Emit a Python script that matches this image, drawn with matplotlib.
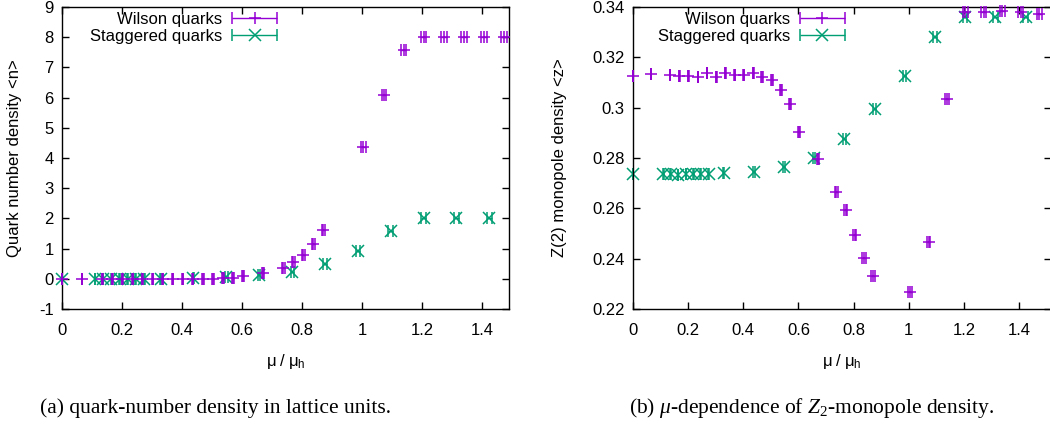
import matplotlib
matplotlib.use("Agg")
import matplotlib.pyplot as plt
from matplotlib.container import ErrorbarContainer
from matplotlib.legend_handler import HandlerErrorbar
from matplotlib.ticker import FormatStrFormatter, MultipleLocator

plt.rcParams['font.family'] = ['Liberation Sans', 'DejaVu Sans']
plt.rcParams['mathtext.fontset'] = 'custom'
plt.rcParams['mathtext.rm'] = 'Liberation Serif'
plt.rcParams['mathtext.it'] = 'Liberation Serif:italic'
plt.rcParams['mathtext.sf'] = 'Liberation Sans'

# mu / mu_h values
wilson_mu = [0.0, 0.067, 0.134, 0.168, 0.201, 0.235, 0.268, 0.302, 0.335, 0.369,
             0.402, 0.436, 0.469, 0.503, 0.536, 0.570, 0.603, 0.670, 0.737, 0.771,
             0.804, 0.838, 0.871, 1.005, 1.072, 1.139, 1.206, 1.273, 1.340, 1.407, 1.474]
wilson_mu_err = [0.0, 0.0, 0.001, 0.001, 0.001, 0.001, 0.001, 0.002, 0.002, 0.002,
                 0.002, 0.002, 0.003, 0.003, 0.003, 0.003, 0.004, 0.004, 0.005, 0.005,
                 0.005, 0.006, 0.006, 0.007, 0.007, 0.008, 0.008, 0.009, 0.009, 0.009, 0.010]
stag_mu = [0.0, 0.110, 0.137, 0.164, 0.192, 0.219, 0.246, 0.274, 0.329, 0.438,
           0.548, 0.657, 0.767, 0.876, 0.986, 1.095, 1.205, 1.314, 1.424]
stag_mu_err = [0.0, 0.001, 0.001, 0.001, 0.001, 0.001, 0.002, 0.002, 0.002, 0.003,
               0.004, 0.004, 0.005, 0.006, 0.006, 0.007, 0.008, 0.009, 0.009]

# (a) quark number density
wilson_n = [0, 0, 0, 0, 0, 0, 0, 0, 0, 0, 0, 0, 0, 0, 0.02, 0.03, 0.08, 0.18, 0.37,
            0.54, 0.78, 1.14, 1.62, 4.35, 6.07, 7.57, 8.0, 8.0, 8.0, 8.0, 8.0]
stag_n = [0, 0, 0, 0, 0, 0, 0, 0, 0, 0.01, 0.05, 0.12, 0.24, 0.49, 0.91, 1.59,
          2.0, 2.0, 2.0]

# (b) Z(2) monopole density
wilson_z = [0.3127, 0.3135, 0.3131, 0.3127, 0.3127, 0.3122, 0.3137, 0.3120, 0.3138,
            0.3128, 0.3130, 0.3137, 0.3122, 0.3108, 0.3071, 0.3013, 0.2903, 0.2796,
            0.2666, 0.2592, 0.2496, 0.2403, 0.2330, 0.2266, 0.2467, 0.3034, 0.3379,
            0.3379, 0.3385, 0.3382, 0.3373]
stag_z = [0.2736, 0.2735, 0.2737, 0.2734, 0.2738, 0.2736, 0.2737, 0.2738, 0.2742,
          0.2746, 0.2763, 0.2801, 0.2875, 0.2995, 0.3127, 0.3281, 0.3360, 0.3361, 0.3361]

purple = '#9400D3'
green = '#009E73'

fig = plt.figure(figsize=(10.5, 4.28), dpi=100)
ax1 = fig.add_axes([62 / 1050, 1 - 309 / 428, 447 / 1050, 302 / 428])
ax2 = fig.add_axes([633 / 1050, 1 - 309 / 428, 418 / 1050, 302 / 428])


def draw(ax, yw, ys):
    ax.errorbar(wilson_mu, yw, xerr=wilson_mu_err, fmt='+', color=purple,
                ms=8, mew=1.1, elinewidth=1.0, capsize=4, capthick=1.0,
                label='Wilson quarks', clip_on=False, zorder=3)
    ax.errorbar(stag_mu, ys, xerr=stag_mu_err, fmt='x', color=green,
                ms=8.5, mew=1.1, elinewidth=1.0, capsize=4, capthick=1.0,
                label='Staggered quarks', clip_on=False, zorder=2)
    ax.tick_params(direction='in', top=True, right=True, length=5, width=1,
                   labelsize=12)
    ax.tick_params(axis='y', pad=6)
    ax.tick_params(axis='x', pad=10)
    ax.xaxis.set_major_locator(MultipleLocator(0.2))
    ax.xaxis.set_major_formatter(FormatStrFormatter('%g'))
    ax.yaxis.set_major_formatter(FormatStrFormatter('%g'))
    for s in ax.spines.values():
        s.set_linewidth(1.0)
    ax.set_xlabel(r'$\mathsf{\mu\ /\ \mu_h}$', fontsize=12)
    ax.xaxis.set_label_coords(0.5, -0.142)


def key(ax, right):
    ax.legend(loc='upper right', bbox_to_anchor=(right, 0.985), frameon=False,
              markerfirst=False, fontsize=12, handlelength=2.7, handletextpad=0.6,
              labelspacing=0.12, borderpad=0, borderaxespad=0,
              handler_map={ErrorbarContainer: HandlerErrorbar(xerr_size=1.35)})


draw(ax1, wilson_n, stag_n)
ax1.set_xlim(0, 1.49)
ax1.set_ylim(-1, 9)
ax1.yaxis.set_major_locator(MultipleLocator(1))
ax1.set_ylabel('Quark number density <n>', fontsize=12)
ax1.yaxis.set_label_coords(-0.089, 0.5)
key(ax1, 0.481)

draw(ax2, wilson_z, stag_z)
ax2.set_xlim(0, 418 / 275.7)
ax2.set_ylim(0.22, 0.34)
ax2.yaxis.set_major_locator(MultipleLocator(0.02))
ax2.set_ylabel('Z(2) monopole density <z>', fontsize=12)
ax2.yaxis.set_label_coords(-0.158, 0.5)
key(ax2, 0.507)

fig.text(215 / 1050, 20 / 428, '(a) quark-number density in lattice units.',
         ha='center', va='center', fontsize=15.5, family='Liberation Serif')
fig.text(812 / 1050, 20 / 428, r'(b) $\mu$-dependence of $Z_2$-monopole density.',
         ha='center', va='center', fontsize=15.5, family='Liberation Serif')

fig.savefig('out.png', dpi=100)
